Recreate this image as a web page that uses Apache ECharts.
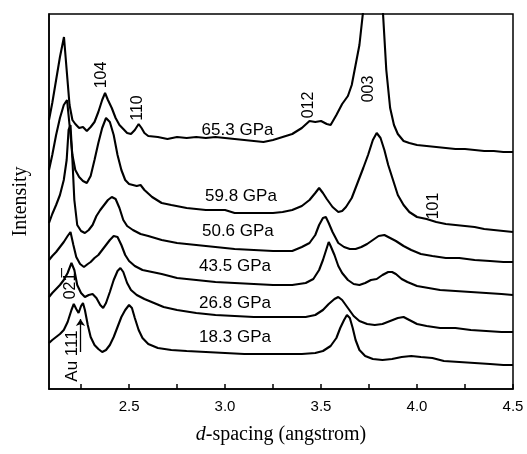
<!DOCTYPE html>
<html>
<head>
<meta charset="utf-8">
<script src="https://cdn.jsdelivr.net/npm/echarts@6/dist/echarts.min.js"></script>
<style>
  html, body { margin: 0; padding: 0; background: #fff; }
  #chart { width: 527px; height: 454px; }
</style>
</head>
<body>
<div id="chart"></div>
<script>
// d-spacing (angstrom), intensity (offset, arbitrary units)
const trace653 = [
  [2.083, 269], [2.10, 286], [2.12, 309], [2.14, 332], [2.161, 352], [2.175, 319], [2.19, 284],
  [2.205, 269], [2.22, 265], [2.24, 261], [2.26, 262], [2.28, 258], [2.30, 262], [2.32, 267],
  [2.34, 277], [2.36, 289], [2.375, 296], [2.39, 289], [2.41, 281], [2.43, 271], [2.45, 264],
  [2.47, 260], [2.49, 256], [2.51, 255], [2.53, 259], [2.55, 265], [2.565, 261], [2.58, 256],
  [2.60, 253], [2.65, 252], [2.70, 250], [2.75, 252], [2.80, 251], [2.85, 252], [2.90, 251],
  [2.95, 252], [3.00, 251], [3.05, 250], [3.10, 249], [3.15, 248], [3.20, 247], [3.25, 249],
  [3.30, 252], [3.35, 255], [3.40, 261], [3.44, 268], [3.47, 267], [3.50, 268], [3.53, 265],
  [3.55, 264], [3.58, 274], [3.61, 285], [3.64, 293], [3.66, 304], [3.68, 324], [3.70, 344],
  [3.72, 379], [3.75, 449], [3.775, 560], [3.80, 450], [3.823, 375], [3.84, 319], [3.86, 281],
  [3.88, 264], [3.90, 255], [3.93, 248], [3.96, 246], [4.00, 244], [4.05, 243], [4.10, 242],
  [4.15, 241], [4.20, 240], [4.25, 240], [4.30, 239], [4.35, 238], [4.40, 238], [4.45, 237],
  [4.50, 237]
];
const trace598 = [
  [2.083, 219], [2.10, 234], [2.12, 254], [2.14, 271], [2.16, 284], [2.177, 289], [2.19, 264],
  [2.205, 234], [2.22, 219], [2.24, 212], [2.26, 208], [2.28, 206], [2.30, 213], [2.32, 229],
  [2.34, 246], [2.36, 261], [2.38, 271], [2.40, 267], [2.42, 254], [2.44, 234], [2.46, 219],
  [2.48, 209], [2.50, 205], [2.52, 204], [2.54, 203], [2.56, 204], [2.58, 199], [2.62, 192],
  [2.67, 186], [2.72, 184], [2.80, 181], [2.90, 179], [3.00, 179], [3.05, 176], [3.15, 176],
  [3.25, 176], [3.30, 177], [3.35, 179], [3.40, 183], [3.44, 189], [3.47, 196], [3.49, 201],
  [3.51, 196], [3.53, 190], [3.56, 182], [3.59, 177], [3.61, 178], [3.63, 182], [3.66, 191],
  [3.69, 206], [3.72, 221], [3.745, 234], [3.77, 249], [3.79, 256], [3.81, 251], [3.83, 239],
  [3.85, 224], [3.875, 209], [3.90, 194], [3.93, 184], [3.96, 177], [4.00, 172], [4.05, 170],
  [4.10, 167], [4.15, 165], [4.20, 164], [4.25, 163], [4.30, 162], [4.35, 160], [4.40, 159],
  [4.45, 158], [4.50, 157]
];
const trace506 = [
  [2.083, 166], [2.10, 175], [2.12, 184], [2.14, 194], [2.16, 209], [2.175, 229], [2.185, 259],
  [2.195, 264], [2.205, 229], [2.215, 189], [2.23, 164], [2.25, 158], [2.27, 156], [2.29, 159],
  [2.31, 164], [2.33, 173], [2.35, 179], [2.37, 184], [2.39, 189], [2.41, 192], [2.43, 190],
  [2.45, 181], [2.47, 169], [2.49, 163], [2.52, 159], [2.56, 155], [2.60, 153], [2.67, 149],
  [2.75, 146], [2.85, 144], [2.95, 142], [3.05, 140], [3.15, 139], [3.25, 138], [3.35, 138],
  [3.40, 142], [3.44, 146], [3.47, 154], [3.49, 164], [3.51, 171], [3.525, 172], [3.54, 166],
  [3.56, 157], [3.59, 146], [3.62, 142], [3.65, 140], [3.68, 140], [3.71, 142], [3.74, 145],
  [3.77, 149], [3.80, 153], [3.83, 154], [3.86, 151], [3.89, 148], [3.93, 143], [3.97, 139],
  [4.02, 135], [4.08, 133], [4.15, 131], [4.22, 131], [4.30, 129], [4.38, 128], [4.45, 127],
  [4.50, 127]
];
const trace435 = [
  [2.083, 129], [2.10, 133], [2.12, 137], [2.14, 142], [2.16, 147], [2.18, 153], [2.195, 157],
  [2.21, 144], [2.225, 132], [2.245, 125], [2.265, 122], [2.285, 125], [2.30, 127], [2.32, 131],
  [2.34, 134], [2.36, 139], [2.38, 144], [2.40, 149], [2.42, 153], [2.44, 152], [2.46, 144],
  [2.48, 134], [2.50, 128], [2.53, 123], [2.57, 119], [2.62, 117], [2.67, 115], [2.75, 111],
  [2.85, 109], [2.95, 107], [3.05, 106], [3.15, 105], [3.25, 104], [3.35, 104], [3.42, 106],
  [3.46, 110], [3.49, 119], [3.51, 129], [3.53, 141], [3.54, 147], [3.55, 143], [3.57, 134],
  [3.59, 123], [3.61, 116], [3.64, 109], [3.67, 105], [3.70, 104], [3.73, 106], [3.76, 109],
  [3.79, 110], [3.82, 114], [3.85, 117], [3.87, 117], [3.89, 115], [3.92, 110], [3.95, 107],
  [4.00, 103], [4.06, 101], [4.12, 99], [4.20, 98], [4.28, 97], [4.36, 96], [4.44, 95],
  [4.50, 94]
];
const trace268 = [
  [2.083, 92], [2.10, 96], [2.12, 100], [2.14, 104], [2.16, 109], [2.18, 116], [2.20, 126],
  [2.215, 119], [2.23, 104], [2.25, 96], [2.27, 92], [2.29, 94], [2.31, 95], [2.33, 91],
  [2.35, 84], [2.365, 81], [2.38, 86], [2.40, 97], [2.42, 109], [2.44, 118], [2.455, 121],
  [2.47, 117], [2.49, 106], [2.51, 99], [2.54, 94], [2.58, 90], [2.63, 86], [2.68, 82],
  [2.75, 79], [2.85, 76], [2.95, 74], [3.05, 73], [3.15, 72], [3.25, 72], [3.35, 72],
  [3.42, 72], [3.47, 74], [3.51, 79], [3.54, 85], [3.57, 90], [3.59, 92], [3.61, 89],
  [3.64, 81], [3.67, 73], [3.70, 68], [3.74, 65], [3.78, 64], [3.82, 65], [3.86, 68],
  [3.90, 71], [3.93, 72], [3.96, 69], [4.00, 65], [4.05, 63], [4.12, 61], [4.20, 61],
  [4.28, 59], [4.36, 58], [4.44, 57], [4.50, 57]
];
const trace183 = [
  [2.083, 46], [2.10, 49], [2.12, 52], [2.14, 55], [2.16, 59], [2.18, 67], [2.20, 79],
  [2.212, 85], [2.225, 80], [2.237, 76], [2.25, 83], [2.26, 86], [2.27, 79], [2.285, 64],
  [2.30, 52], [2.32, 44], [2.34, 40], [2.36, 37], [2.38, 39], [2.40, 44], [2.42, 52],
  [2.44, 62], [2.46, 72], [2.48, 79], [2.50, 84], [2.515, 81], [2.53, 71], [2.55, 59],
  [2.57, 51], [2.60, 45], [2.65, 41], [2.72, 39], [2.80, 38], [2.90, 37], [3.00, 36],
  [3.10, 35], [3.20, 35], [3.30, 35], [3.40, 35], [3.47, 36], [3.51, 38], [3.55, 43],
  [3.58, 51], [3.60, 61], [3.62, 69], [3.635, 74], [3.65, 71], [3.665, 61], [3.68, 49],
  [3.70, 39], [3.73, 33], [3.77, 30], [3.82, 29], [3.87, 30], [3.92, 32], [3.97, 33],
  [4.02, 32], [4.08, 31], [4.14, 28], [4.22, 27], [4.30, 26], [4.38, 25], [4.45, 24],
  [4.50, 24]
];

const traces = [trace653, trace598, trace506, trace435, trace268, trace183];
const pressures = ['65.3 GPa', '59.8 GPa', '50.6 GPa', '43.5 GPa', '26.8 GPa', '18.3 GPa'];

const xTickLabels = [2.5, 3.0, 3.5, 4.0, 4.5];
const xTicks = [2.25, 2.5, 2.75, 3.0, 3.25, 3.5, 3.75, 4.0, 4.25, 4.5];

// annotation anchors, in data coordinates
const pressureAnchors = [[3.065, 259], [3.083, 193], [3.067, 158], [3.052, 123], [3.052, 86], [3.052, 52]];
const peakNames = ['104', '110', '012', '003', '101', '02\u0031\u0305', 'Au 111'];
const peakAnchors = [[2.356, 314], [2.544, 281], [3.437, 284], [3.747, 300], [4.088, 183], [2.198, 103], [2.203, 33]];
const auArrow = [[2.247, 37], [2.247, 70]];

const chart = echarts.init(document.getElementById('chart'));

const sans = 'Liberation Sans, Arial, sans-serif';
const serif = 'Liberation Serif, Times New Roman, serif';

const lineSeries = traces.map((data, i) => ({
  type: 'line',
  name: pressures[i],
  data: data,
  showSymbol: false,
  symbol: 'none',
  lineStyle: { color: '#000', width: 2.1 },
  z: 3
}));

function labelSeries(anchors, names, rotate, fontSize) {
  return {
    type: 'scatter',
    symbolSize: 0,
    silent: true,
    itemStyle: { opacity: 1 },
    data: anchors.map((p, i) => ({ value: p, name: names[i] })),
    label: {
      show: true, position: 'inside', rotate: rotate, formatter: (p) => p.name,
      color: '#000', opacity: 1, fontFamily: sans, fontSize: fontSize
    },
    z: 4
  };
}

chart.setOption({
  animation: false,
  grid: {
    left: 49, right: 14, top: 14, bottom: 65,
    show: true, borderColor: '#000', borderWidth: 1.5
  },
  xAxis: {
    type: 'value',
    min: 2.083,
    max: 4.5,
    name: '{i|d}-spacing (angstrom)',
    nameLocation: 'middle',
    nameGap: 36,
    nameTextStyle: {
      fontFamily: serif, fontSize: 20, color: '#000',
      rich: { i: { fontFamily: serif, fontStyle: 'italic', fontSize: 20, color: '#000' } }
    },
    axisLine: { lineStyle: { color: '#000', width: 1.5 } },
    axisTick: { inside: true, length: 5, customValues: xTicks, lineStyle: { color: '#000', width: 1.5 } },
    axisLabel: {
      customValues: xTickLabels,
      formatter: (v) => v.toFixed(1),
      color: '#000', fontFamily: sans, fontSize: 15, margin: 10
    },
    splitLine: { show: false }
  },
  yAxis: {
    type: 'value',
    min: 0,
    max: 375,
    name: 'Intensity',
    nameLocation: 'middle',
    nameGap: 18,
    nameTextStyle: { fontFamily: serif, fontSize: 20, color: '#000' },
    axisLine: { show: true, lineStyle: { color: '#000', width: 1.5 } },
    axisTick: { show: false },
    axisLabel: { show: false },
    splitLine: { show: false }
  },
  series: [
    ...lineSeries,
    labelSeries(pressureAnchors, pressures, 0, 17),
    labelSeries(peakAnchors.slice(0, 6), peakNames.slice(0, 6), 90, 16),
    labelSeries(peakAnchors.slice(6), peakNames.slice(6), 90, 17),
    {
      type: 'line',
      data: [],
      markLine: {
        silent: true,
        symbol: ['none', 'arrow'],
        symbolSize: 7,
        label: { show: false },
        lineStyle: { color: '#000', width: 1.3, type: 'solid' },
        data: [[{ coord: auArrow[0] }, { coord: auArrow[1] }]]
      }
    }
  ]
});
</script>
</body>
</html>
